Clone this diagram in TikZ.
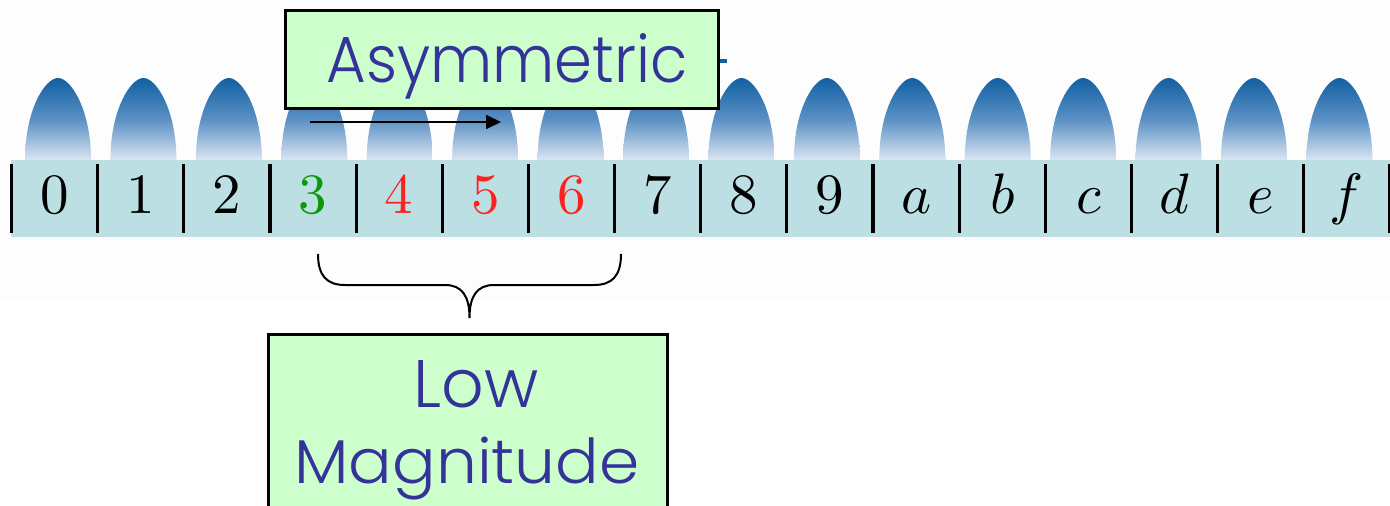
\documentclass[tikz,border=0pt]{standalone}
\usepackage{fontspec}
\usepackage{graphicx}
\usetikzlibrary{arrows.meta}
\newfontfamily\gothic{Poppins Light}
\definecolor{stripc}{HTML}{BCDFE3}
\definecolor{bumptop}{HTML}{1260A2}
\definecolor{bumpmid}{HTML}{5A90C4}
\definecolor{bumpbot}{HTML}{DAE5F2}
\definecolor{boxfill}{HTML}{CCFFCC}
\definecolor{txtblue}{HTML}{333399}
\definecolor{dgreen}{HTML}{0B990B}
\definecolor{dred}{HTML}{FF2020}
\definecolor{faint}{HTML}{FCFDFC}
\begin{document}
\begin{tikzpicture}[x=1pt,y=-1pt,
  cell/.style={anchor=base, inner sep=0pt},
  sepbar/.style={line width=3.2pt},
  bump/.style={top color=bumptop, bottom color=bumpbot, middle color=bumpmid},
  greenbox/.style={draw=black, line width=3pt, fill=boxfill, inner sep=0pt},
  gtext/.style={anchor=base, inner sep=0pt, text=txtblue, font=\gothic},
  thinarrow/.style={line width=1.8pt, -{Triangle[length=15pt,width=14pt]}},
  bracepath/.style={line width=2pt}]
\useasboundingbox (0,0) rectangle (1390,506);
\fill[faint] (0,0) rectangle (1390,300);
% bumps
\foreach \j in {0,...,15}{
  \pgfmathsetmacro\c{58+85.43*\j}
  \shade[bump] (\c-33,160) .. controls (\c-33,110) and (\c-13,78) .. (\c,78)
     .. controls (\c+13,78) and (\c+33,110) .. (\c+33,160) -- cycle;
}
% strip
\fill[stripc] (11,160) rectangle (1390,237);
\foreach \k in {0,...,16}{
  \draw[sepbar] ({11.5+86.15*\k},164) -- ({11.5+86.15*\k},233);
}
\foreach \t/\col [count=\i from 0] in {0/black,1/black,2/black,3/dgreen,4/dred,5/dred,6/dred,7/black,8/black,9/black,a/black,b/black,c/black,d/black,e/black,f/black}{
  \node[cell, text=\col] (c\i) at ({11.5+86.15*(\i+0.5)},213.5) {\scalebox{5.7}{$\t$}};
}
% small mark
\fill[bumptop] (719,59) rectangle (727,63);
% Asymmetric box
\node[greenbox, minimum width=432.3pt, minimum height=98.2pt] (asym) at (501.9,59.6) {};
\node[gtext] (asymtxt) at (507,82) {\resizebox{361pt}{49pt}{Asymmetric}};
% arrow
\coordinate (arrS) at (310,122);
\coordinate (arrE) at (501,122);
\draw[thinarrow] (arrS) -- (arrE);
% brace
\coordinate (bL) at (318,254);
\coordinate (bR) at (621,254);
\coordinate (bT) at (469.5,318);
\draw[bracepath] (bL) .. controls (318,276) and (327,285) .. (345,285) -- (445,285)
   .. controls (462,285) and (469.5,296) .. (bT)
   .. controls (469.5,296) and (477,285) .. (494,285) -- (594,285)
   .. controls (612,285) and (621,276) .. (bR);
% Low Magnitude box
\node[greenbox, minimum width=398.6pt, minimum height=200pt] (low) at (468,434.7) {};
\node[gtext] (lowA) at (476,407) {\resizebox{125pt}{47pt}{Low}};
\node[gtext] (lowB) at (467,483) {\resizebox{345pt}{46.5pt}{Magnitude}};
\end{tikzpicture}
\end{document}
